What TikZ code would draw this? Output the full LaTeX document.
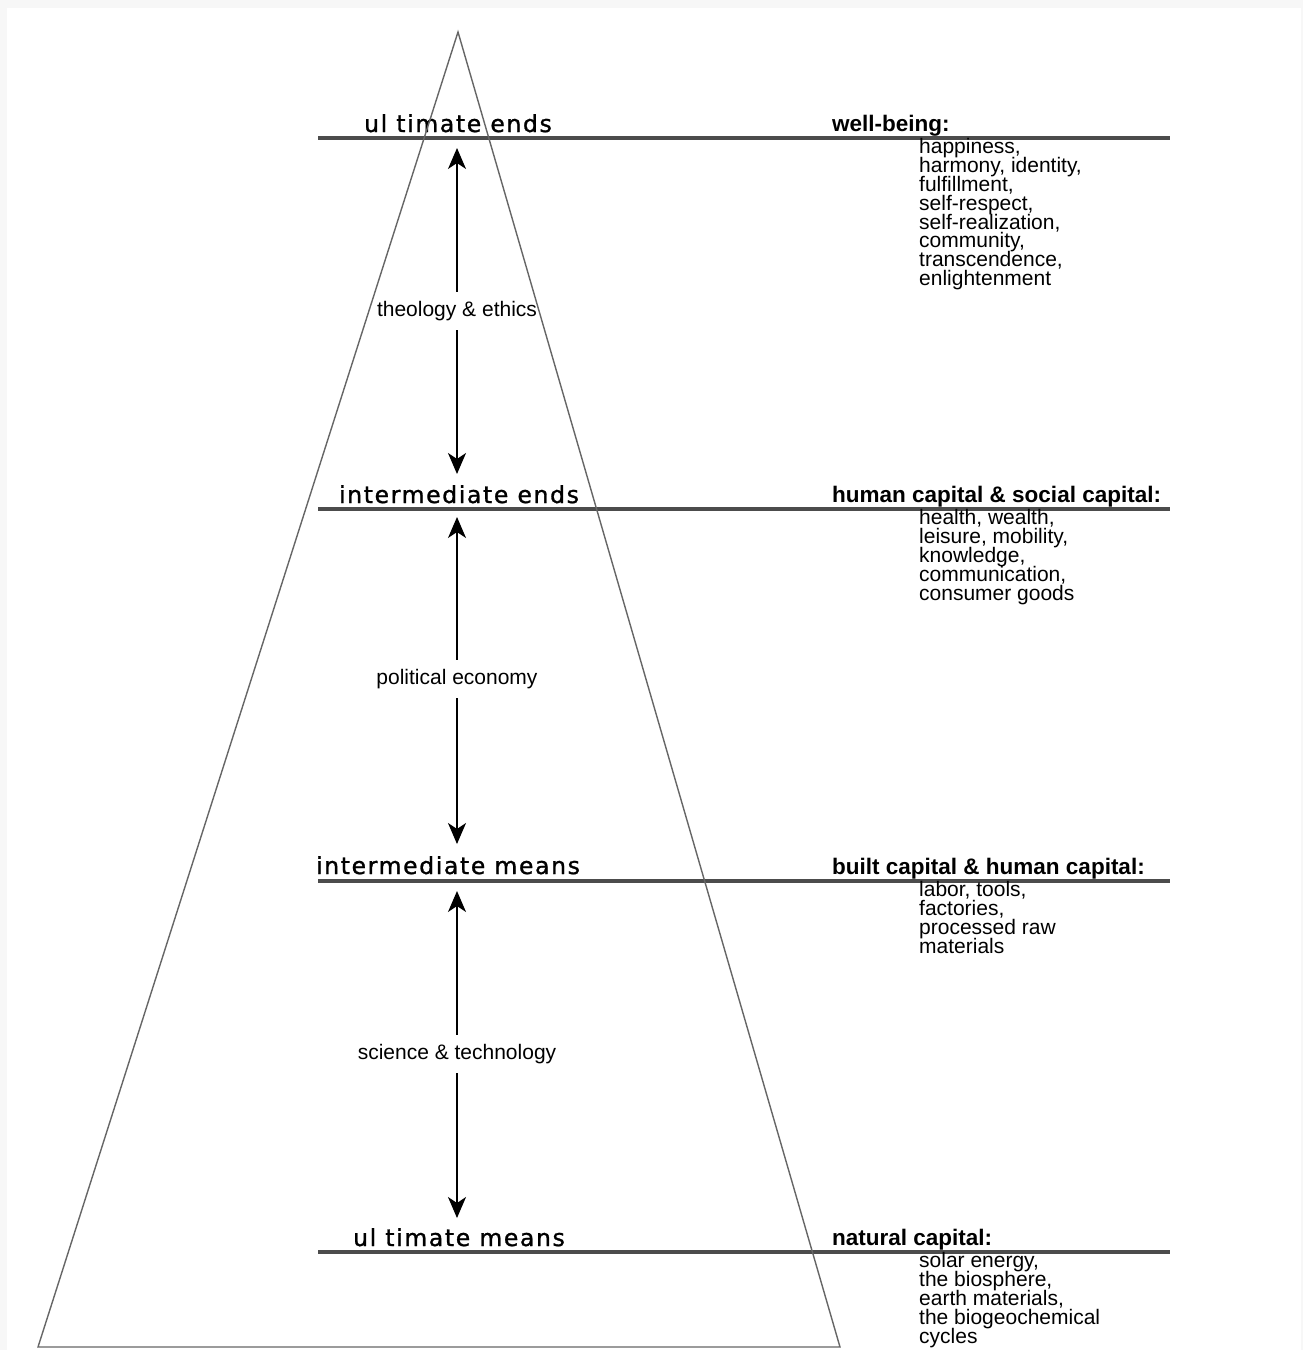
\documentclass[tikz,border=0pt]{standalone}
\usepackage{fontspec}
\setmainfont{Liberation Sans}
\newfontfamily\levelfont[LetterSpace=7, FakeBold=1.2]{DejaVu Sans}
\newcommand\itemfont{\fontsize{21}{18.9}\selectfont\setlength{\lineskiplimit}{-20pt}\relax}
\usetikzlibrary{arrows.meta, positioning}
\tikzset{
  level/.style = {font=\levelfont\fontsize{23.5}{25}\selectfont, inner sep=0pt, anchor=base},
  head/.style = {font=\bfseries\fontsize{22.5}{24}\selectfont, inner sep=0pt, anchor=base west},
  items/.style = {font=\itemfont, inner sep=0pt, anchor=north west, align=left},
  study/.style = {font=\fontsize{21}{23}\selectfont, inner sep=0pt, minimum height=38pt},
  rule/.style = {line width=3.2pt, draw=black!70},
  side/.style = {line width=1.4pt, draw=black!60},
  tip/.style = {-{Stealth[length=21pt, width=18pt, inset=6pt]}, line width=1.7pt}
}

\begin{document}
\begin{tikzpicture}[x=1pt, y=-1pt]
  \useasboundingbox (0,0) rectangle (1303,1350);
  \fill[black!3] (0,0) rectangle (1303,1350);
  \fill[white] (7,8) rectangle (1301,1350);

  % levels of the pyramid
  \node[level] (ue) at (458,132) {ul timate ends};
  \node[level] (ie) at (459,503) {intermediate ends};
  \node[level] (im) at (448,874) {intermediate means};
  \node[level] (um) at (459,1246) {ul timate means};

  \foreach \y in {138, 509, 881, 1252}
    \draw[rule] (318,\y) -- (1170,\y);

  % capital on the right
  \node[head] (wb) at (832,131) {well-being:};
  \node[items] (wbl) at (919,138) {happiness,\\ harmony, identity,\\ fulfillment,\\ self-respect,\\ self-realization,\\ community,\\ transcendence,\\ enlightenment};
  \node[head] (hc) at (832,502) {human capital \& social capital:};
  \node[items] (hcl) at (919,509) {health, wealth,\\ leisure, mobility,\\ knowledge,\\ communication,\\ consumer goods};
  \node[head] (bc) at (832,874) {built capital \& human capital:};
  \node[items] (bcl) at (919,881) {labor, tools,\\ factories,\\ processed raw\\ materials};
  \node[head] (nc) at (832,1245) {natural capital:};
  \node[items] (ncl) at (919,1252) {solar energy,\\ the biosphere,\\ earth materials,\\ the biogeochemical\\ cycles};

  % arrows between the levels
  \coordinate (ueT) at (457,148);
  \coordinate (ieB) at (457,474);
  \coordinate (ieT) at (457,517);
  \coordinate (imB) at (457,844);
  \coordinate (imT) at (457,891);
  \coordinate (umB) at (457,1218);
  \node[study] (eth) at (457,311) {theology \& ethics};
  \node[study] (pol) at (457,679) {political economy};
  \node[study] (sci) at (457,1054) {science \& technology};
  \draw[tip] (eth.north) -- (ueT);
  \draw[tip] (eth.south) -- (ieB);
  \draw[tip] (pol.north) -- (ieT);
  \draw[tip] (pol.south) -- (imB);
  \draw[tip] (sci.north) -- (imT);
  \draw[tip] (sci.south) -- (umB);

  % pyramid
  \draw[side, line join=miter] (458,32) -- (840,1347) -- (38,1347) -- cycle;
\end{tikzpicture}
\end{document}
